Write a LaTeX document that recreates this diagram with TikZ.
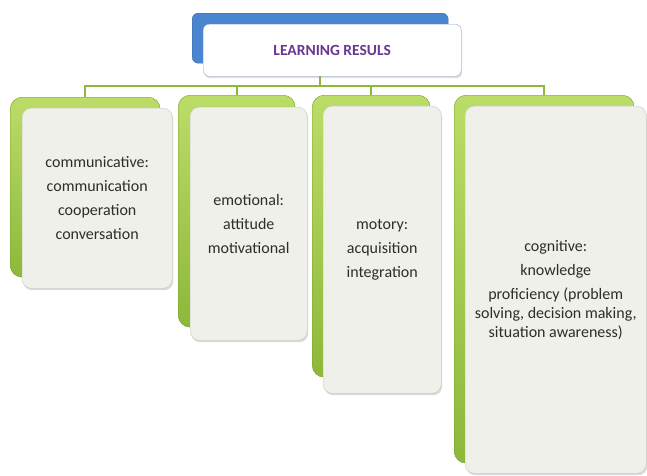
\documentclass[tikz,border=0pt]{standalone}
\usepackage{fontspec}
\setmainfont{Carlito}
\usepackage{xcolor}
\usepackage{tikz}
\usetikzlibrary{positioning,shadows}

\definecolor{leafgreen}{RGB}{141,184,58}
\definecolor{leafdark}{RGB}{118,158,40}
\definecolor{leaflight}{RGB}{188,220,104}
\definecolor{panelgrey}{RGB}{238,240,233}
\definecolor{panelrim}{RGB}{200,208,190}
\definecolor{headblue}{RGB}{74,134,208}
\definecolor{headrim}{RGB}{150,170,205}
\definecolor{headtext}{RGB}{105,55,145}
\definecolor{bodytext}{RGB}{45,45,45}

\begin{document}
\begin{tikzpicture}[
    x=1pt, y=-1pt,
    headback/.style={rectangle, rounded corners=6pt, fill=headblue, draw=headblue!80!black, anchor=north west, inner sep=0pt},
    headfront/.style={rectangle, rounded corners=6pt, fill=white, draw=headrim, anchor=north west, inner sep=0pt,
        drop shadow={shadow xshift=1pt, shadow yshift=-2pt, opacity=0.25},
        text=headtext, font=\fontsize{15.5}{18}\selectfont\bfseries},
    backpanel/.style={rectangle, rounded corners=12pt, top color=leaflight, bottom color=leafgreen, draw=leafdark, anchor=north west, inner sep=0pt},
    frontpanel/.style={rectangle, rounded corners=9pt, fill=panelgrey, draw=panelrim, anchor=north west, inner sep=0pt,
        drop shadow={shadow xshift=1pt, shadow yshift=-2pt, opacity=0.3},
        text=bodytext, align=center, font=\fontsize{16}{19}\selectfont},
    link/.style={draw=leafgreen, line width=2pt}
]
    \useasboundingbox (0,0) rectangle (647,475);

    % Title
    \node[headback, minimum width=256pt, minimum height=50pt] (headback) at (192,13) {};

    % Green back panels
    \node[backpanel, minimum width=150pt, minimum height=180pt] (commback) at (10,97) {};
    \node[backpanel, minimum width=117pt, minimum height=232pt] (emoback) at (178,95) {};
    \node[backpanel, minimum width=118pt, minimum height=282pt] (motback) at (312,95) {};
    \node[backpanel, minimum width=180pt, minimum height=368pt] (cogback) at (454,95) {};

    % Connectors
    \draw[link] (headback.south) -- ++(0,23) -| (commback.north);
    \draw[link] (headback.south) -- ++(0,23) -| (emoback.north);
    \draw[link] (headback.south) -- ++(0,23) -| (motback.north);
    \draw[link] (headback.south) -- ++(0,23) -| (cogback.north);

    \node[headfront, minimum width=258pt, minimum height=52pt] (head) at (203,24) {LEARNING RESULS};

    % White front panels
    \node[frontpanel, minimum width=150pt, minimum height=180pt] (comm) at (22,108)
        {communicative:\\[5pt] communication\\[5pt] cooperation\\[5pt] conversation};
    \node[frontpanel, minimum width=117pt, minimum height=233pt] (emo) at (190,107)
        {emotional:\\[5pt] attitude\\[5pt] motivational};
    \node[frontpanel, minimum width=118pt, minimum height=287pt] (mot) at (323,106)
        {motory:\\[5pt] acquisition\\[5pt] integration};
    \node[frontpanel, minimum width=181pt, minimum height=367pt] (cog) at (465,106)
        {cognitive:\\[5pt] knowledge\\[5pt] proficiency (problem\\ solving, decision making,\\ situation awareness)};
\end{tikzpicture}
\end{document}
